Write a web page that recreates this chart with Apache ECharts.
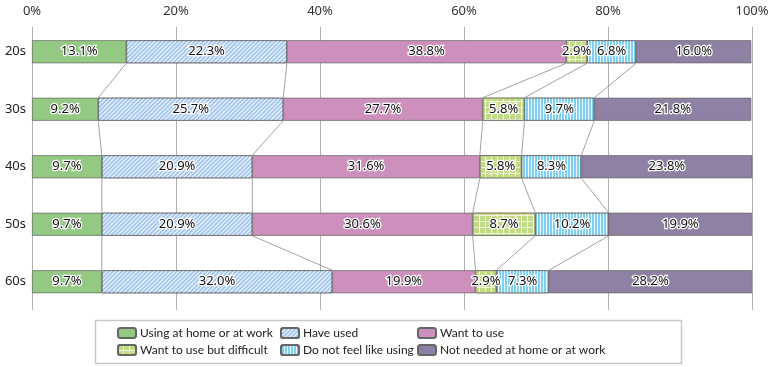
<!DOCTYPE html>
<html><head><meta charset="utf-8">
<script src="https://cdn.jsdelivr.net/npm/echarts@6/dist/echarts.min.js"></script>
<style>html,body{margin:0;padding:0;background:#fff}#c{width:776px;height:367px}</style>
</head><body><div id="c"></div>
<script>
const categories = ['20s', '30s', '40s', '50s', '60s'];
const seriesNames = ['Using at home or at work', 'Have used', 'Want to use', 'Want to use but difficult', 'Do not feel like using', 'Not needed at home or at work'];
const usingVals = [13.1, 9.2, 9.7, 9.7, 9.7];
const haveUsedVals = [22.3, 25.7, 20.9, 20.9, 32.0];
const wantVals = [38.8, 27.7, 31.6, 30.6, 19.9];
const difficultVals = [2.9, 5.8, 5.8, 8.7, 2.9];
const notFeelVals = [6.8, 9.7, 8.3, 10.2, 7.3];
const notNeededVals = [16.0, 21.8, 23.8, 19.9, 28.2];
const xTicks = [0, 20, 40, 60, 80, 100];

const allVals = [usingVals, haveUsedVals, wantVals, difficultVals, notFeelVals, notNeededVals];
const FONT = '"Noto Sans", sans-serif';
const LFONT = 'Lato, "Noto Sans", sans-serif';
const BAR_W = 23;

const styles = [
  {color: '#93c982'},
  {color: '#a6c8ef', decal: {symbol: 'rect', color: 'rgba(255,255,255,0.9)', dashArrayX: [1, 0], dashArrayY: [1, 2], rotation: -Math.PI / 4, symbolSize: 1}},
  {color: '#cd90bd'},
  {color: '#eef5dc', decal: {symbol: 'rect', color: '#c3da84', dashArrayX: [5, 1], dashArrayY: [5, 1], rotation: 0, symbolSize: 1}},
  {color: '#7fd0f3', decal: {symbol: 'rect', color: 'rgba(255,255,255,0.85)', dashArrayX: [1, 2], dashArrayY: [1, 0], rotation: 0, symbolSize: 1}},
  {color: '#8f81a3'}
];

const connData = [];
for (let i = 0; i < categories.length - 1; i++) {
  let c1 = 0, c2 = 0;
  for (let s = 0; s < 5; s++) {
    c1 += allVals[s][i]; c2 += allVals[s][i + 1];
    connData.push([i, c1, c2]);
  }
}

const series = seriesNames.map((name, s) => ({
  name, type: 'bar', stack: 'total', barWidth: BAR_W,
  xAxisIndex: 0, yAxisIndex: 0,
  data: allVals[s],
  itemStyle: Object.assign({borderColor: '#666', borderWidth: 0.7}, styles[s]),
  label: {
    show: true, position: 'inside', fontFamily: FONT, fontSize: 13, color: '#111',
    textBorderColor: '#fff', textBorderWidth: 2.5,
    formatter: p => p.value.toFixed(1) + '%'
  },
  emphasis: {disabled: true}
}));

series.push({
  type: 'custom', xAxisIndex: 0, yAxisIndex: 0, silent: true, z: 1,
  data: connData,
  renderItem: (params, api) => {
    const i = api.value(0);
    const p1 = api.coord([api.value(1), i]);
    const p2 = api.coord([api.value(2), i + 1]);
    return {type: 'line', shape: {x1: p1[0], y1: p1[1] + BAR_W / 2, x2: p2[0], y2: p2[1] - BAR_W / 2},
      style: {stroke: '#8a8a8a', lineWidth: 0.8}};
  }
});

const legendCommon = {orient: 'vertical', itemWidth: 18, itemHeight: 10, itemGap: 5,
  textStyle: {fontFamily: LFONT, fontSize: 12, color: '#222', padding: [0, 0, 0, -1]}, selectedMode: false, padding: 0};

const option = {
  animation: false,
  grid: [
    {left: 32, right: 24, top: 23, bottom: 56.5},
    {left: 32, right: 24, top: 27, bottom: 57}
  ],
  xAxis: [
    {gridIndex: 0, type: 'value', min: 0, max: 100, show: false},
    {gridIndex: 1, type: 'value', position: 'top', min: 0, max: 100, interval: 20,
      axisLine: {show: false}, axisTick: {show: false},
      axisLabel: {formatter: v => xTicks.includes(v) ? v + '%' : '', fontFamily: FONT, fontSize: 13, color: '#333', margin: 9},
      splitLine: {show: true, lineStyle: {color: '#b0b0b0', width: 1}}}
  ],
  yAxis: [
    {gridIndex: 0, type: 'category', data: categories, inverse: true,
      axisLine: {show: false}, axisTick: {show: false},
      axisLabel: {fontFamily: FONT, fontSize: 13, color: '#222', margin: 6}},
    {gridIndex: 1, type: 'value', show: false}
  ],
  legend: [
    Object.assign({left: 117, top: 327, data: [seriesNames[0], seriesNames[3]]}, legendCommon),
    Object.assign({left: 280, top: 327, data: [seriesNames[1], seriesNames[4]]}, legendCommon),
    Object.assign({left: 417, top: 327, data: [seriesNames[2], seriesNames[5]]}, legendCommon)
  ],
  graphic: [{type: 'rect', shape: {x: 95.5, y: 320.5, width: 586, height: 43}, style: {fill: 'none', stroke: '#c8c8c8', lineWidth: 1.5}, silent: true}],
  series
};
const chart = echarts.init(document.getElementById('c'), null, {renderer: 'canvas'});
chart.setOption(option);
</script></body></html>
